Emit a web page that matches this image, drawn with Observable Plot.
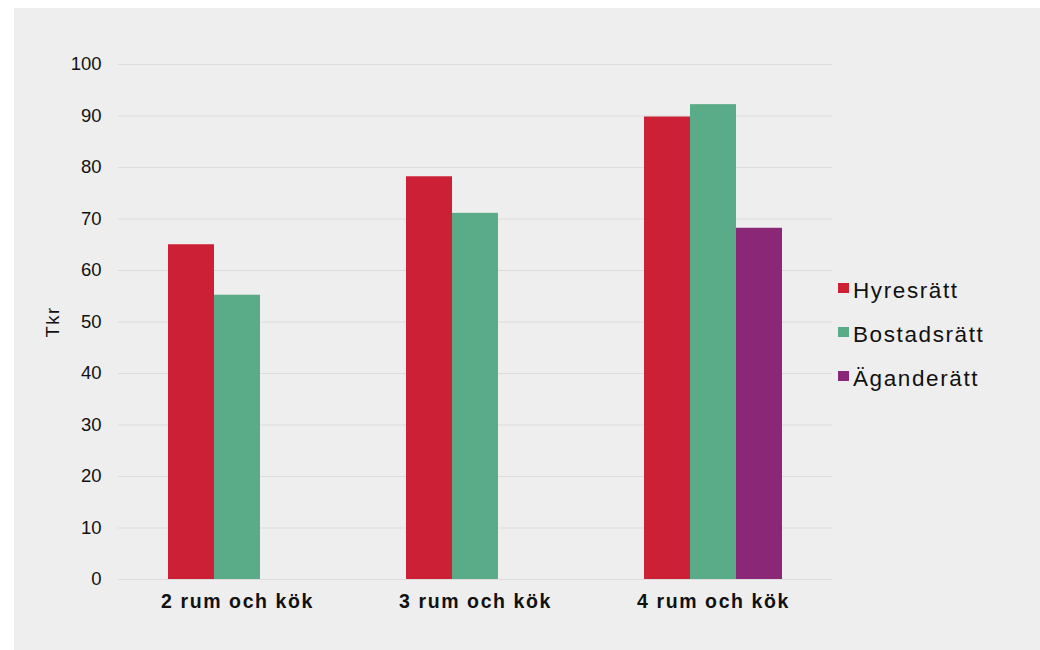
<!DOCTYPE html>
<html>
<head>
<meta charset="utf-8">
<script src="https://cdn.jsdelivr.net/npm/d3@7"></script>
<script src="https://cdn.jsdelivr.net/npm/@observablehq/plot@0.6"></script>
<style>
  html, body { margin: 0; padding: 0; background: #ffffff; }
  #panel {
    position: absolute; left: 14px; top: 8px; width: 1026px; height: 642px;
    background: #eeeeee;
  }
  #chart { position: absolute; left: 0; top: 0; }
  #legend {
    position: absolute; left: 838px; top: 269px;
    font-family: "Liberation Sans", Arial, sans-serif; font-size: 22.5px; color: #111;
    letter-spacing: 1.6px;
  }
  #legend .item { display: flex; align-items: center; height: 44px; }
  #legend .swatch { width: 11px; height: 10px; margin-right: 4px; margin-top: -7px; }
</style>
</head>
<body>
<div id="panel"></div>
<div id="chart"></div>
<div id="legend"></div>
<script>
// Housing cost per apartment size and tenure type (thousand SEK)
const sizes = ["2 rum och kök", "3 rum och kök", "4 rum och kök"];
const tenures = ["Hyresrätt", "Bostadsrätt", "Äganderätt"];
const colors = ["#cc2036", "#5aab87", "#8a2776"];
const hyresratt = [65.0, 78.2, 89.8];
const bostadsratt = [55.2, 71.1, 92.2];
const aganderatt = [null, null, 68.2];
const yTicks = [0, 10, 20, 30, 40, 50, 60, 70, 80, 90, 100];

const seriesValues = [hyresratt, bostadsratt, aganderatt];
const rows = [];
sizes.forEach((size, i) => {
  tenures.forEach((t, j) => {
    const v = seriesValues[j][i];
    if (v != null) rows.push({size, tenure: t, value: v});
  });
});

const chart = Plot.plot({
  width: 1040,
  height: 650,
  marginLeft: 118,
  marginRight: 208,
  marginTop: 64,
  marginBottom: 71,
  style: {background: "transparent", fontFamily: "'Liberation Sans', Arial, sans-serif", color: "#111"},
  fx: {domain: sizes, padding: 0},
  x: {domain: tenures, paddingInner: 0, paddingOuter: 1.05, axis: null},
  y: {domain: [0, 100]},
  color: {domain: tenures, range: colors},
  marks: [
    Plot.gridY(yTicks, {stroke: "#dcdcdc", strokeOpacity: 1, strokeWidth: 1}),
    Plot.barY(rows, {fx: "size", x: "tenure", y: "value", fill: "tenure", inset: 0}),
    Plot.axisY(yTicks, {
      tickSize: 0, tickPadding: 17, fontSize: 18.5,
      label: "Tkr", labelAnchor: "center", labelArrow: "none", labelOffset: 73
    }),
    Plot.axisFx({anchor: "bottom", tickSize: 0, tickPadding: 15, fontSize: 19.5, fontWeight: "bold", label: null})
  ]
});
// wider tracking on the category labels and the unit label
d3.select(chart).selectAll('g[aria-label="fx-axis tick label"] text').style("letter-spacing", "1.6px");
d3.select(chart).selectAll('g[aria-label="y-axis label"] text').style("letter-spacing", "1.5px");
document.getElementById("chart").appendChild(chart);

// Legend, built from the same series and colours
const legend = d3.select("#legend");
tenures.forEach((t, j) => {
  const item = legend.append("div").attr("class", "item");
  item.append("div").attr("class", "swatch").style("background", colors[j]);
  item.append("span").text(t);
});
</script>
</body>
</html>
